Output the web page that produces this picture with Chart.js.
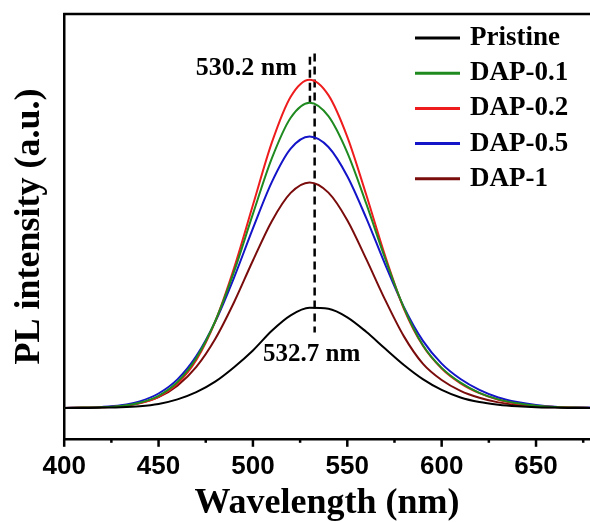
<!DOCTYPE html>
<html>
<head>
<meta charset="utf-8">
<script src="https://cdn.jsdelivr.net/npm/chart.js@4"></script>
<style>
  html, body { margin: 0; padding: 0; background: #fff; }
  #wrap { width: 590px; height: 522px; }
</style>
</head>
<body>
<div id="wrap"><canvas id="plChart" width="590" height="522"></canvas></div>
<script>
// wavelength grid (nm)
const wavelengths = [400, 410, 420, 430, 440, 450, 460, 470, 480, 490, 500, 510, 520, 530, 540,
                     550, 560, 570, 580, 590, 600, 610, 620, 630, 640, 650, 660, 670, 680];

// PL intensity (a.u.)
const pristine = [0, 0, 0.001, 0.002, 0.005, 0.012, 0.026, 0.048, 0.08, 0.124, 0.175, 0.235, 0.282, 0.305, 0.302,
                  0.276, 0.232, 0.181, 0.131, 0.088, 0.055, 0.032, 0.018, 0.01, 0.005, 0.002, 0.001, 0, 0];
const dap01 = [0, 0.001, 0.002, 0.006, 0.016, 0.037, 0.079, 0.152, 0.264, 0.415, 0.591, 0.76, 0.884, 0.93, 0.889,
               0.778, 0.623, 0.456, 0.305, 0.192, 0.122, 0.077, 0.046, 0.026, 0.014, 0.007, 0.003, 0.001, 0];
const dap02 = [0, 0.001, 0.002, 0.005, 0.014, 0.034, 0.074, 0.146, 0.263, 0.426, 0.618, 0.808, 0.948, 1.0, 0.953,
               0.826, 0.65, 0.464, 0.302, 0.19, 0.12, 0.075, 0.045, 0.025, 0.013, 0.006, 0.003, 0.001, 0];
const dap05 = [0, 0.001, 0.003, 0.008, 0.02, 0.044, 0.087, 0.158, 0.262, 0.397, 0.547, 0.688, 0.79, 0.827, 0.795,
               0.706, 0.579, 0.438, 0.307, 0.205, 0.135, 0.088, 0.055, 0.032, 0.018, 0.009, 0.004, 0.002, 0.001];
const dap1 = [0, 0.001, 0.002, 0.006, 0.015, 0.033, 0.068, 0.125, 0.21, 0.322, 0.449, 0.569, 0.655, 0.687, 0.656,
              0.572, 0.454, 0.33, 0.218, 0.135, 0.085, 0.052, 0.031, 0.017, 0.009, 0.004, 0.002, 0.001, 0];

const seriesNames = ['Pristine', 'DAP-0.1', 'DAP-0.2', 'DAP-0.5', 'DAP-1'];
const seriesValues = [pristine, dap01, dap02, dap05, dap1];
const seriesColors = ['#000000', '#1f8a1f', '#ee1c1c', '#1414c8', '#7a0c0c'];

// peak markers
const peakPositions = [530.2, 532.7];
const peakLabels = ['530.2 nm', '532.7 nm'];

const xTicks = [400, 425, 450, 475, 500, 525, 550, 575, 600, 625, 650, 675];

function toPoints(ys) {
    return wavelengths.map((w, i) => ({ x: w, y: ys[i] }));
}

let datasets = seriesValues.map((vals, i) => ({
    label: seriesNames[i],
    data: toPoints(vals),
    borderColor: seriesColors[i],
    borderWidth: 2,
    pointRadius: 0,
    fill: false,
    cubicInterpolationMode: 'monotone',
}));

// dashed guide lines through the peaks
datasets.push({
    label: 'guide1',
    data: [{ x: peakPositions[0], y: 1.07 }, { x: peakPositions[0], y: 0.93 }],
    borderColor: '#000', borderWidth: 2.5, borderDash: [8, 5], pointRadius: 0,
});
datasets.push({
    label: 'guide2',
    data: [{ x: peakPositions[1], y: 1.08 }, { x: peakPositions[1], y: 0.23 }],
    borderColor: '#000', borderWidth: 2.5, borderDash: [8, 5], pointRadius: 0,
});

const extras = {
    id: 'extras',
    afterDraw(chart) {
        const ctx = chart.ctx;
        const area = chart.chartArea;
        const xs = chart.scales.x, ys = chart.scales.y;
        ctx.save();
        // top frame line
        ctx.strokeStyle = '#000';
        ctx.lineWidth = 2.5;
        ctx.beginPath();
        ctx.moveTo(area.left - 1, area.top);
        ctx.lineTo(area.right, area.top);
        ctx.stroke();
        // x ticks, major and minor
        xTicks.forEach(v => {
            const px = xs.getPixelForValue(v);
            const len = v % 50 === 0 ? 8 : 4;
            ctx.beginPath();
            ctx.moveTo(px, area.bottom);
            ctx.lineTo(px, area.bottom + len);
            ctx.stroke();
        });
        // peak labels
        ctx.fillStyle = '#000';
        ctx.font = 'bold 26px "Liberation Serif", "Times New Roman", serif';
        ctx.textBaseline = 'middle';
        ctx.textAlign = 'right';
        ctx.fillText(peakLabels[0], xs.getPixelForValue(peakPositions[0]) - 13, ys.getPixelForValue(1.036));
        ctx.textAlign = 'center';
        ctx.font = 'bold 25px "Liberation Serif", "Times New Roman", serif';
        ctx.fillText(peakLabels[1], xs.getPixelForValue(peakPositions[1]) - 3, ys.getPixelForValue(0.164));
        // legend
        ctx.font = 'bold 27px "Liberation Serif", "Times New Roman", serif';
        ctx.textAlign = 'left';
        ctx.lineWidth = 3;
        seriesNames.forEach((name, i) => {
            const y = 38 + i * 35.2;
            ctx.strokeStyle = seriesColors[i];
            ctx.beginPath();
            ctx.moveTo(415, y);
            ctx.lineTo(460, y);
            ctx.stroke();
            ctx.fillText(name, 470, y);
        });
        ctx.restore();
    }
};

new Chart(document.getElementById('plChart'), {
    type: 'line',
    data: { datasets: datasets },
    options: {
        responsive: false,
        animation: false,
        layout: { padding: { top: 14, right: 0, left: 0, bottom: 0 } },
        plugins: {
            legend: { display: false },
            tooltip: { enabled: false },
        },
        scales: {
            x: {
                type: 'linear',
                min: 400,
                max: 678.6,
                afterBuildTicks(scale) {
                    scale.ticks = xTicks.map(v => ({ value: v }));
                },
                ticks: {
                    autoSkip: false,
                    maxRotation: 0,
                    padding: 4,
                    color: '#000',
                    font: { family: '"Liberation Sans", Arial, sans-serif', size: 26, weight: 'bold' },
                    callback: v => (v % 50 === 0 ? String(v) : ''),
                },
                grid: { drawOnChartArea: false, drawTicks: true, tickLength: 8, tickColor: 'rgba(0,0,0,0)' },
                border: { color: '#000', width: 2.5 },
                title: {
                    display: true,
                    text: 'Wavelength (nm)',
                    color: '#000',
                    font: { family: '"Liberation Serif", "Times New Roman", serif', size: 36, weight: 'bold', lineHeight: 1.0 },
                    padding: { top: 0, bottom: 0 },
                },
            },
            y: {
                min: -0.094,
                max: 1.2,
                ticks: { display: false },
                grid: { display: false, drawTicks: false },
                border: { color: '#000', width: 2.5 },
                title: {
                    display: true,
                    text: 'PL intensity (a.u.)',
                    color: '#000',
                    font: { family: '"Liberation Serif", "Times New Roman", serif', size: 36, weight: 'bold' },
                    padding: { top: 8, bottom: 13 },
                },
            },
        },
    },
    plugins: [extras],
});
</script>
</body>
</html>
